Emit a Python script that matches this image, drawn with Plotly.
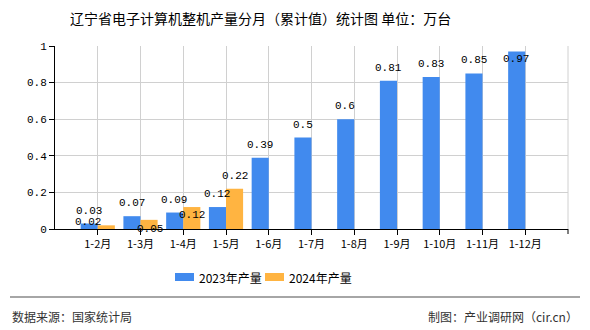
import plotly.graph_objects as go

categories = ["1-2月", "1-3月", "1-4月", "1-5月", "1-6月", "1-7月", "1-8月",
              "1-9月", "1-10月", "1-11月", "1-12月"]
values_2023 = [0.03, 0.07, 0.09, 0.12, 0.39, 0.5, 0.6, 0.81, 0.83, 0.85, 0.97]
values_2024 = [0.02, 0.05, 0.12, 0.22, None, None, None, None, None, None, None]
series_names = ["2023年产量", "2024年产量"]
ytick_vals = [0, 0.2, 0.4, 0.6, 0.8, 1]
ytick_text = ["0", "0.2", "0.4", "0.6", "0.8", "1"]

BLUE = "#418AEE"
ORANGE = "#FFB441"
W, H = 590, 330
L, R, T, B = 55, 568, 46, 229
num_font = dict(family="Liberation Mono, DejaVu Sans Mono, monospace", size=11, color="#000")
cjk = "Noto Sans CJK SC, sans-serif"


def px(x):
    return (x - L) / (R - L)


def py(y):
    return (B - y) / (B - T)


fig = go.Figure()
fig.add_trace(go.Bar(x=categories, y=values_2023, name=series_names[0],
                     marker=dict(color=BLUE, line=dict(width=0)), showlegend=False))
fig.add_trace(go.Bar(x=categories, y=values_2024, name=series_names[1],
                     marker=dict(color=ORANGE, line=dict(width=0)), showlegend=False))

annotations = []
for i, (c, v) in enumerate(zip(categories, values_2023)):
    dy = 13 if v < 0.95 else -8  # label pushed inside when near top
    annotations.append(dict(x=c, y=v, xref="x", yref="y", text=str(v), showarrow=False,
                            xshift=-9, yshift=dy, font=num_font))
# label offsets for the 2024 series (style only)
off24 = [(-10, 3), (9, -9), (9, -8), (9, 13)]
for c, v, (dx, dy) in zip(categories, values_2024, off24):
    if v is None:
        continue
    annotations.append(dict(x=c, y=v, xref="x", yref="y", text=str(v), showarrow=False,
                            xshift=dx, yshift=dy, font=num_font))

# title
annotations.append(dict(x=px(260), y=py(18), xref="paper", yref="paper",
                        text="辽宁省电子计算机整机产量分月（累计值）统计图 单位：万台",
                        showarrow=False, xanchor="center", yanchor="middle",
                        font=dict(family=cjk, size=14, color="#000")))
# legend (manual)
shapes = []
for i, (name, col) in enumerate(zip(series_names, [BLUE, ORANGE])):
    x0 = 175 + i * 90
    shapes.append(dict(type="rect", xref="paper", yref="paper",
                       x0=px(x0), x1=px(x0 + 19), y0=py(281), y1=py(273),
                       fillcolor=col, line=dict(width=0)))
    annotations.append(dict(x=px(x0 + 22), y=py(277), xref="paper", yref="paper",
                            text=name, showarrow=False, xanchor="left", yanchor="middle",
                            font=dict(family=cjk, size=12, color="#000")))
# footer
shapes.append(dict(type="line", xref="paper", yref="paper", x0=px(10), x1=px(580),
                   y0=py(297), y1=py(297), line=dict(color="#888", width=1.5)))
annotations.append(dict(x=px(10), y=py(316), xref="paper", yref="paper",
                        text="数据来源：国家统计局", showarrow=False, xanchor="left",
                        yanchor="middle", font=dict(family=cjk, size=12, color="#333")))
annotations.append(dict(x=px(580), y=py(316), xref="paper", yref="paper",
                        text="制图：产业调研网（cir.cn）", showarrow=False, xanchor="right",
                        yanchor="middle", font=dict(family=cjk, size=12, color="#333")))
# right border grid line
shapes.append(dict(type="line", xref="paper", yref="paper", x0=1, x1=1, y0=0, y1=1,
                   line=dict(color="#d0d0d0", width=1)))
shapes.append(dict(type="line", xref="paper", yref="paper", x0=1, x1=1, y0=0, y1=-5 / (B - T),
                   line=dict(color="#000", width=1)))

fig.update_layout(
    width=W, height=H,
    margin=dict(l=L, r=W - R, t=T, b=H - B),
    paper_bgcolor="white", plot_bgcolor="white",
    barmode="group", bargap=0.2, bargroupgap=0,
    showlegend=False,
    annotations=annotations, shapes=shapes,
    xaxis=dict(type="category", categoryorder="array", categoryarray=categories,
               range=[-1, 11], showgrid=True, gridcolor="#d0d0d0", gridwidth=1,
               showline=True, linecolor="#000", linewidth=1,
               ticks="outside", ticklen=5, tickcolor="#000",
               tickfont=dict(family=cjk, size=11, color="#000"), zeroline=False),
    yaxis=dict(range=[0, 1], tickvals=ytick_vals, ticktext=ytick_text,
               showgrid=True, gridcolor="#d0d0d0", gridwidth=1,
               showline=True, linecolor="#000", linewidth=1,
               ticks="outside", ticklen=5, tickcolor="#000",
               tickfont=num_font, zeroline=False),
)

fig.write_html("out.html")
